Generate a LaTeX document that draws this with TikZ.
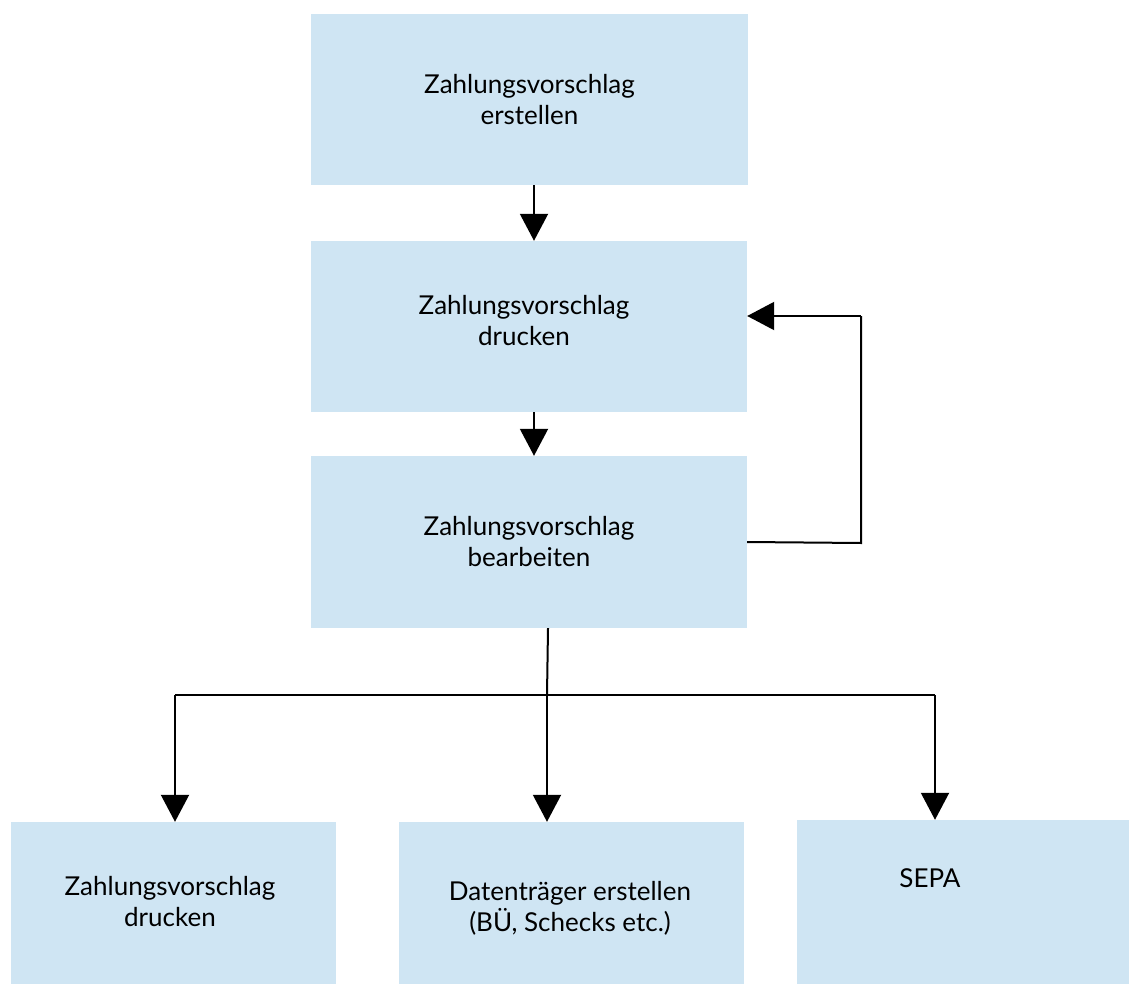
\documentclass[tikz,border=0pt]{standalone}
\usepackage{fontspec}
\setmainfont{Lato}
\usetikzlibrary{arrows.meta}
\definecolor{boxblue}{RGB}{207,229,243}
\tikzset{
  box/.style={fill=boxblue, draw=none, inner sep=0pt, align=center,
    font=\fontsize{26}{31}\selectfont},
  txt/.style={inner sep=0pt, align=center, font=\fontsize{26}{31}\selectfont},
  conn/.style={line width=2pt, draw=black},
  arr/.style={conn, -{Triangle[length=27pt,width=28pt]}},
}
\begin{document}
\begin{tikzpicture}[x=1pt,y=-1pt]
\useasboundingbox (0,0) rectangle (1129,984);
\node[box, minimum width=437pt, minimum height=171pt] (b1) at (529.5,99.5) {Zahlungsvorschlag\\erstellen};
\node[box, minimum width=436pt, minimum height=171pt] (b2) at (529,326.5) {};
\node[txt] (t2) at (524,321) {Zahlungsvorschlag\\drucken};
\node[box, minimum width=436pt, minimum height=172pt] (b3) at (529,542) {Zahlungsvorschlag\\bearbeiten};
\node[box, minimum width=325pt, minimum height=162pt] (b4) at (173.5,903) {};
\node[txt] (t4) at (170,902) {Zahlungsvorschlag\\drucken};
\node[box, minimum width=345pt, minimum height=162pt] (b5) at (571.5,903) {};
\node[txt] (t5) at (570,908) {Datenträger erstellen\\(BÜ, Schecks etc.)};
\node[box, minimum width=332pt, minimum height=164pt] (b6) at (963,902) {};
\node[txt] (t6) at (930,878) {SEPA};
% coordinates
\coordinate (xa) at (534,0);
\coordinate (xl) at (175,695);
\coordinate (xm) at (547,695);
\coordinate (xr) at (935,695);
\coordinate (ltop) at (861,316);
\coordinate (lbot) at (861,543);
% arrows
\draw[arr] (b1.south -| xa) -- (b2.north -| xa);
\draw[arr] (b2.south -| xa) -- (b3.north -| xa);
\draw[conn] (b3.east) -- (lbot) -- (ltop);
\draw[arr] (ltop) -- (b2.east |- ltop);
\draw[conn] ([xshift=19pt]b3.south) -- (xm);
\draw[conn] (xl) -- (xr);
\draw[arr] (xl) -- (b4.north -| xl);
\draw[arr] (xm) -- (b5.north -| xm);
\draw[arr] (xr) -- (b6.north -| xr);
\end{tikzpicture}
\end{document}
